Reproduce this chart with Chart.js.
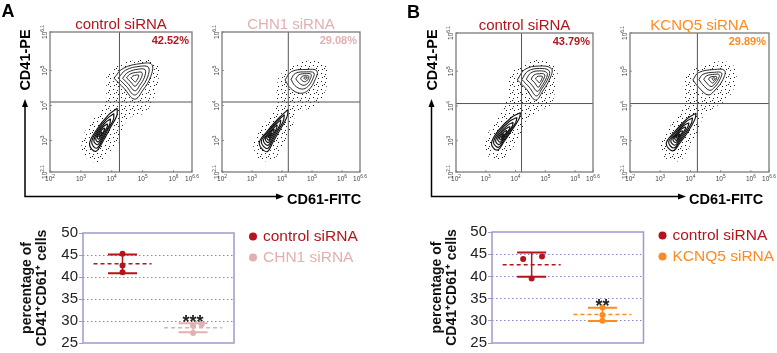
<!DOCTYPE html>
<html>
<head>
<meta charset="utf-8">
<script src="https://cdn.jsdelivr.net/npm/chart.js@4.4.1/dist/chart.umd.min.js"></script>
<style>
  html, body { margin: 0; padding: 0; background: #fff; }
  #fig { position: relative; width: 777px; height: 353px; overflow: hidden; }
  #fig canvas { position: absolute; }
</style>
</head>
<body>
<div id="fig">
  <canvas id="flowA1" width="390" height="212" style="left:0;top:0"></canvas>
  <canvas id="flowA2" width="390" height="212" style="left:0;top:0"></canvas>
  <canvas id="flowB1" width="389" height="212" style="left:388px;top:0"></canvas>
  <canvas id="flowB2" width="389" height="212" style="left:388px;top:0"></canvas>
  <canvas id="dotsA" width="388" height="131" style="left:0;top:222px"></canvas>
  <canvas id="dotsB" width="389" height="131" style="left:388px;top:222px"></canvas>
</div>
<script>
const FONT = "'Liberation Sans', Arial, sans-serif";

// flow cytometry axes (log10 of fluorescence)
const xRange = [2, 6.6];
const yRange = [2.1, 6.1];
const xTickExp = [2, 3, 4, 5, 6, 6.6];
const yTickExp = [2.1, 3, 4, 5, 6.1];

const flowTitles = ["control siRNA", "CHN1 siRNA", "control siRNA", "KCNQ5 siRNA"];
const flowPercents = ["42.52%", "29.08%", "43.79%", "29.89%"];
const flowGates = [[4.25, 4.1], [4.21, 4.1], [4.2, 4.07], [4.23, 4.07]];

// outline of the scattered events (x, y pairs)
const cloud1 = [4.10,5.11, 4.64,5.28, 5.18,5.30, 5.50,5.16, 5.50,4.63, 5.28,4.06, 5.07,3.78, 4.64,3.68, 4.42,3.49, 4.26,3.01, 3.88,2.63, 3.66,2.40, 3.34,2.40, 3.07,2.63, 3.02,3.01, 3.23,3.39, 3.56,3.78, 3.77,4.06, 3.83,4.44, 3.83,4.82];
const cloud2 = [4.04,4.97, 4.60,5.25, 5.27,5.25, 5.54,5.06, 5.49,4.54, 5.27,4.11, 4.93,3.92, 4.49,3.78, 4.32,3.30, 4.04,2.82, 3.77,2.49, 3.49,2.40, 3.21,2.49, 3.04,2.87, 3.21,3.30, 3.60,3.68, 3.82,3.97, 3.82,4.44, 3.88,4.78];
const cloud3 = [3.89,4.99, 4.51,5.32, 5.07,5.27, 5.40,5.03, 5.35,4.51, 5.18,4.03, 4.73,3.84, 4.34,3.55, 4.17,3.12, 3.89,2.78, 3.61,2.49, 3.28,2.45, 3.00,2.64, 3.00,3.07, 3.28,3.50, 3.56,3.88, 3.72,4.27, 3.72,4.65];
const cloud4 = [3.97,4.99, 4.58,5.23, 5.24,5.27, 5.52,5.03, 5.46,4.55, 5.19,4.17, 4.75,3.93, 4.42,3.69, 4.25,3.21, 3.97,2.83, 3.70,2.45, 3.37,2.40, 3.09,2.59, 3.04,3.02, 3.31,3.40, 3.64,3.79, 3.81,4.17, 3.75,4.65];

// contour rings, outer to inner: CD41+CD61+ population
const upper1 = [
  [4.07,4.78, 4.37,5.06, 4.96,5.20, 5.30,5.17, 5.26,4.82, 5.01,4.44, 4.74,4.18, 4.40,4.49],
  [4.21,4.78, 4.45,5.01, 4.92,5.12, 5.19,5.09, 5.16,4.81, 4.96,4.51, 4.74,4.30, 4.47,4.55],
  [4.35,4.78, 4.53,4.95, 4.88,5.04, 5.08,5.02, 5.06,4.81, 4.91,4.58, 4.75,4.42, 4.54,4.61],
  [4.48,4.79, 4.60,4.90, 4.84,4.95, 4.98,4.94, 4.96,4.80, 4.86,4.65, 4.75,4.55, 4.62,4.67],
  [4.62,4.79, 4.68,4.84, 4.80,4.87, 4.87,4.87, 4.86,4.80, 4.81,4.72, 4.76,4.67, 4.69,4.73]
];
const upper2 = [
  [4.10,4.73, 4.32,4.97, 4.82,5.03, 5.16,4.99, 5.10,4.73, 4.88,4.44, 4.60,4.35, 4.29,4.49],
  [4.30,4.75, 4.45,4.92, 4.81,4.96, 5.06,4.93, 5.02,4.75, 4.86,4.54, 4.66,4.47, 4.43,4.57],
  [4.46,4.76, 4.57,4.88, 4.81,4.91, 4.97,4.89, 4.94,4.76, 4.84,4.62, 4.70,4.58, 4.56,4.65],
  [4.62,4.77, 4.68,4.84, 4.81,4.85, 4.89,4.84, 4.88,4.77, 4.82,4.70, 4.75,4.68, 4.67,4.71],
  [4.73,4.78, 4.75,4.81, 4.80,4.81, 4.84,4.81, 4.83,4.78, 4.81,4.76, 4.78,4.75, 4.75,4.76]
];
const upper3 = [
  [4.06,4.75, 4.31,5.05, 4.79,5.15, 5.20,5.08, 5.18,4.84, 4.90,4.41, 4.67,4.17, 4.37,4.48],
  [4.21,4.76, 4.41,5.00, 4.80,5.08, 5.12,5.02, 5.11,4.83, 4.88,4.49, 4.70,4.29, 4.46,4.54],
  [4.36,4.77, 4.51,4.95, 4.80,5.01, 5.05,4.96, 5.04,4.82, 4.87,4.56, 4.73,4.42, 4.55,4.60],
  [4.52,4.77, 4.62,4.89, 4.81,4.93, 4.97,4.91, 4.96,4.81, 4.85,4.64, 4.76,4.54, 4.64,4.67],
  [4.67,4.78, 4.72,4.84, 4.81,4.86, 4.90,4.85, 4.89,4.80, 4.84,4.71, 4.79,4.67, 4.73,4.73]
];
const upper4 = [
  [4.08,4.75, 4.27,4.96, 4.80,5.05, 5.13,5.02, 5.08,4.77, 4.82,4.46, 4.58,4.32, 4.27,4.54],
  [4.28,4.76, 4.41,4.91, 4.79,4.97, 5.03,4.95, 4.98,4.77, 4.81,4.55, 4.64,4.45, 4.41,4.61],
  [4.44,4.77, 4.54,4.87, 4.79,4.91, 4.95,4.90, 4.92,4.78, 4.80,4.63, 4.68,4.56, 4.54,4.66],
  [4.60,4.77, 4.65,4.83, 4.79,4.85, 4.87,4.84, 4.86,4.78, 4.79,4.70, 4.73,4.66, 4.65,4.72],
  [4.71,4.78, 4.73,4.80, 4.78,4.81, 4.82,4.80, 4.81,4.78, 4.78,4.75, 4.76,4.73, 4.73,4.76]
];

// contour rings, outer to inner: CD41-CD61- population
const lower1 = [
  [4.18,3.92, 4.16,3.70, 3.95,3.36, 3.73,3.00, 3.48,2.69, 3.28,2.90, 3.52,3.32, 3.88,3.72],
  [4.07,3.77, 4.05,3.59, 3.88,3.32, 3.71,3.03, 3.51,2.78, 3.35,2.95, 3.54,3.29, 3.83,3.61],
  [3.96,3.62, 3.94,3.48, 3.82,3.28, 3.69,3.06, 3.54,2.88, 3.42,3.00, 3.56,3.26, 3.78,3.50],
  [3.86,3.48, 3.85,3.39, 3.76,3.24, 3.67,3.09, 3.56,2.96, 3.48,3.05, 3.58,3.23, 3.73,3.40],
  [3.77,3.36, 3.76,3.30, 3.71,3.21, 3.65,3.12, 3.58,3.04, 3.53,3.09, 3.59,3.20, 3.69,3.31],
  [3.69,3.25, 3.68,3.22, 3.66,3.18, 3.63,3.14, 3.60,3.10, 3.58,3.13, 3.61,3.18, 3.65,3.23]
];
const lower2 = [
  [4.21,3.89, 4.16,3.66, 3.93,3.30, 3.71,2.97, 3.49,2.68, 3.24,2.92, 3.49,3.25, 3.88,3.63],
  [4.08,3.74, 4.04,3.55, 3.86,3.27, 3.68,3.00, 3.51,2.77, 3.31,2.96, 3.51,3.23, 3.82,3.53],
  [3.96,3.59, 3.93,3.45, 3.79,3.23, 3.66,3.03, 3.53,2.86, 3.38,3.00, 3.53,3.20, 3.76,3.43],
  [3.84,3.45, 3.82,3.35, 3.73,3.20, 3.63,3.06, 3.54,2.94, 3.44,3.04, 3.54,3.18, 3.71,3.34],
  [3.74,3.33, 3.73,3.27, 3.67,3.17, 3.61,3.09, 3.56,3.01, 3.49,3.08, 3.56,3.16, 3.66,3.26],
  [3.66,3.22, 3.65,3.19, 3.62,3.15, 3.60,3.11, 3.57,3.08, 3.54,3.10, 3.57,3.14, 3.62,3.19]
];
const lower3 = [
  [4.17,3.81, 4.11,3.62, 3.84,3.26, 3.61,2.97, 3.39,2.73, 3.19,2.92, 3.44,3.31, 3.86,3.67],
  [4.05,3.67, 4.00,3.52, 3.78,3.23, 3.60,3.00, 3.42,2.81, 3.26,2.96, 3.46,3.27, 3.80,3.56],
  [3.92,3.53, 3.89,3.42, 3.72,3.20, 3.59,3.03, 3.45,2.89, 3.33,3.00, 3.48,3.23, 3.74,3.45],
  [3.81,3.41, 3.79,3.33, 3.67,3.18, 3.58,3.06, 3.48,2.96, 3.40,3.04, 3.50,3.20, 3.68,3.35],
  [3.71,3.30, 3.70,3.25, 3.63,3.16, 3.57,3.08, 3.51,3.02, 3.46,3.07, 3.52,3.17, 3.63,3.26],
  [3.62,3.20, 3.62,3.18, 3.58,3.14, 3.56,3.10, 3.53,3.07, 3.51,3.10, 3.54,3.14, 3.59,3.19]
];
const lower4 = [
  [4.19,3.79, 4.14,3.60, 3.92,3.26, 3.64,2.92, 3.42,2.71, 3.20,2.92, 3.48,3.26, 3.90,3.64],
  [4.07,3.66, 4.03,3.50, 3.85,3.23, 3.63,2.96, 3.45,2.79, 3.28,2.96, 3.50,3.23, 3.84,3.54],
  [3.95,3.52, 3.92,3.41, 3.78,3.20, 3.62,3.00, 3.48,2.87, 3.35,3.00, 3.52,3.20, 3.77,3.43],
  [3.84,3.40, 3.82,3.32, 3.72,3.18, 3.61,3.04, 3.51,2.95, 3.42,3.04, 3.54,3.18, 3.71,3.34],
  [3.74,3.29, 3.73,3.24, 3.67,3.16, 3.60,3.07, 3.54,3.01, 3.48,3.07, 3.55,3.16, 3.66,3.26],
  [3.65,3.20, 3.65,3.18, 3.62,3.14, 3.59,3.10, 3.56,3.07, 3.53,3.10, 3.57,3.14, 3.62,3.18]
];

// dot plots: percentage of CD41+CD61+ cells, three replicates per group
const pctTicks = [25, 30, 35, 40, 45, 50];
const groupsA = ["control siRNA", "CHN1 siRNA"];
const valuesA = [[45.3, 42.6, 41.1], [28.9, 29.2, 27.3]];
const jitterA = [[0, 0, 0], [0, 0.12, 0]];
const sigA = ["", "***"];
const groupsB = ["control siRNA", "KCNQ5 siRNA"];
const valuesB = [[43.9, 44.5, 39.5], [33.0, 31.3, 30.0]];
const jitterB = [[-0.12, 0.146, 0], [0, 0, 0]];
const sigB = ["", "**"];

const RED = "#b3151d", PINK = "#e3b0b0", ORANGE = "#ff8b1f";

const clouds = [cloud1, cloud2, cloud3, cloud4];
const uppers = [upper1, upper2, upper3, upper4];
const lowers = [lower1, lower2, lower3, lower4];

// speckle texture for the scattered events
const tile = document.createElement("canvas");
tile.width = tile.height = 8;
const tctx = tile.getContext("2d");
tctx.fillStyle = "#222";
[[1, 1], [5, 2], [2, 5], [6, 6], [4, 4]].forEach(([px, py]) => tctx.fillRect(px, py, 1, 1));
const speckle = tctx.createPattern(tile, "repeat");

function ring(flat) {
  const pts = [];
  for (let i = 0; i < flat.length; i += 2) pts.push({ x: flat[i], y: flat[i + 1] });
  pts.push(pts[0]);
  return pts;
}

function drawPow(ctx, e, cx, cy) {
  const sup = String(e);
  ctx.font = `6.5px ${FONT}`;
  const wb = ctx.measureText("10").width;
  ctx.font = `4.8px ${FONT}`;
  const ws = ctx.measureText(sup).width;
  const x0 = cx - (wb + ws) / 2;
  ctx.textAlign = "left";
  ctx.textBaseline = "alphabetic";
  ctx.font = `6.5px ${FONT}`;
  ctx.fillText("10", x0, cy + 2.3);
  ctx.font = `4.8px ${FONT}`;
  ctx.fillText(sup, x0 + wb, cy - 0.6);
}

// frame, gate, tick labels, title and percentage of one flow plot
function flowFrame(k, color) {
  return {
    id: "flowFrame",
    afterDatasetsDraw(chart) {
      const { ctx, chartArea: a, scales: { x, y } } = chart;
      ctx.save();
      const gx = x.getPixelForValue(flowGates[k][0]);
      const gy = y.getPixelForValue(flowGates[k][1]);
      ctx.strokeStyle = "#555";
      ctx.lineWidth = 1;
      ctx.beginPath();
      ctx.moveTo(gx, a.top); ctx.lineTo(gx, a.bottom);
      ctx.moveTo(a.left, gy); ctx.lineTo(a.right, gy);
      ctx.stroke();
      ctx.strokeStyle = "#7a7a7a";
      ctx.lineWidth = 1.3;
      ctx.strokeRect(a.left, a.top, a.right - a.left, a.bottom - a.top);

      ctx.fillStyle = "#444";
      ctx.lineWidth = 0.8;
      xTickExp.forEach(e => {
        const px = x.getPixelForValue(e);
        ctx.beginPath(); ctx.moveTo(px, a.bottom); ctx.lineTo(px, a.bottom - 2); ctx.stroke();
        drawPow(ctx, e, px, a.bottom + 6.5);
      });
      yTickExp.forEach(e => {
        const py = y.getPixelForValue(e);
        ctx.beginPath(); ctx.moveTo(a.left, py); ctx.lineTo(a.left + 2, py); ctx.stroke();
        ctx.save();
        ctx.translate(a.left - 5.5, py);
        ctx.rotate(-Math.PI / 2);
        drawPow(ctx, e, 0, 0);
        ctx.restore();
      });

      ctx.fillStyle = color;
      ctx.font = `15px ${FONT}`;
      ctx.textAlign = "center";
      ctx.textBaseline = "alphabetic";
      ctx.fillText(flowTitles[k], (a.left + a.right) / 2, a.top - 3.5);
      ctx.font = `bold 11px ${FONT}`;
      ctx.textAlign = "right";
      ctx.fillText(flowPercents[k], a.right - 3, a.top + 11.5);
      ctx.restore();
    }
  };
}

// panel letter and the CD41-PE / CD61-FITC axis arrows
function panelDecor(d) {
  return {
    id: "panelDecor",
    afterDraw(chart) {
      const ctx = chart.ctx;
      ctx.save();
      ctx.fillStyle = "#000";
      ctx.strokeStyle = "#000";
      ctx.font = `bold 18px ${FONT}`;
      ctx.textAlign = "left";
      ctx.textBaseline = "alphabetic";
      ctx.fillText(d.letter, d.lx, d.ly);

      ctx.lineWidth = 1.5;
      ctx.beginPath();
      ctx.moveTo(d.ox, d.yTip + 6); ctx.lineTo(d.ox, d.oy); ctx.lineTo(d.xTip - 6, d.oy);
      ctx.stroke();
      ctx.beginPath();
      ctx.moveTo(d.ox, d.yTip); ctx.lineTo(d.ox - 3, d.yTip + 8); ctx.lineTo(d.ox + 3, d.yTip + 8);
      ctx.closePath(); ctx.fill();
      ctx.beginPath();
      ctx.moveTo(d.xTip, d.oy); ctx.lineTo(d.xTip - 8, d.oy - 3); ctx.lineTo(d.xTip - 8, d.oy + 3);
      ctx.closePath(); ctx.fill();

      ctx.font = `bold 14.5px ${FONT}`;
      ctx.textBaseline = "middle";
      ctx.fillText("CD61-FITC", d.xTip + 3, d.oy + 3.5);
      ctx.translate(d.ox + 1, 60);
      ctx.rotate(-Math.PI / 2);
      ctx.textAlign = "center";
      ctx.fillText("CD41-PE", 0, 0);
      ctx.restore();
    }
  };
}

function flowChart(id, k, pad, color, decor) {
  const sets = [{
    data: ring(clouds[k]), fill: "shape", backgroundColor: speckle,
    borderColor: "rgba(0,0,0,0)", borderWidth: 0, tension: 0.3
  }];
  [uppers[k], lowers[k]].forEach((rings, p) => {
    rings.forEach((r, i) => sets.push({
      data: ring(r), fill: i === 0 ? "shape" : false, backgroundColor: "#fff",
      borderColor: "#111", borderWidth: p === 0 ? 0.9 : 1.15, tension: 0.4
    }));
  });
  sets.forEach((s, j) => { s.order = -j; s.showLine = true; s.pointRadius = 0; });

  const plugins = [flowFrame(k, color)];
  if (decor) plugins.push(panelDecor(decor));

  new Chart(document.getElementById(id), {
    type: "scatter",
    data: { datasets: sets },
    options: {
      responsive: false,
      animation: false,
      events: [],
      layout: { padding: pad },
      plugins: { legend: { display: false }, tooltip: { enabled: false } },
      scales: {
        x: { display: false, min: xRange[0], max: xRange[1] },
        y: { display: false, min: yRange[0], max: yRange[1] }
      }
    },
    plugins
  });
}

// mean (dashed), SD whiskers, significance stars, legend and frame
function groupStats(groups, values, sig, colors) {
  return {
    id: "groupStats",
    beforeDatasetsDraw(chart) {
      const { ctx, chartArea: a, scales: { x, y } } = chart;
      ctx.save();
      ctx.strokeStyle = "#9b9bcf";
      ctx.lineWidth = 1.5;
      ctx.strokeRect(a.left, a.top, a.right - a.left, a.bottom - a.top);

      values.forEach((vals, g) => {
        const mean = vals.reduce((s, v) => s + v, 0) / vals.length;
        const sd = Math.sqrt(vals.reduce((s, v) => s + (v - mean) ** 2, 0) / (vals.length - 1));
        const cx = x.getPixelForValue(g);
        const yHi = y.getPixelForValue(mean + sd);
        const yLo = y.getPixelForValue(mean - sd);
        const yM = y.getPixelForValue(mean);
        ctx.strokeStyle = colors[g];
        ctx.setLineDash([]);
        ctx.lineWidth = 1.5;
        ctx.beginPath(); ctx.moveTo(cx, yHi); ctx.lineTo(cx, yLo); ctx.stroke();
        ctx.lineWidth = 2;
        ctx.beginPath();
        ctx.moveTo(cx - 14.5, yHi); ctx.lineTo(cx + 14.5, yHi);
        ctx.moveTo(cx - 14.5, yLo); ctx.lineTo(cx + 14.5, yLo);
        ctx.stroke();
        ctx.setLineDash([4, 3]);
        ctx.lineWidth = 1.5;
        ctx.beginPath(); ctx.moveTo(cx - 29, yM); ctx.lineTo(cx + 29, yM); ctx.stroke();
        ctx.setLineDash([]);
        if (sig[g]) {
          ctx.fillStyle = "#222";
          ctx.font = `bold 18px ${FONT}`;
          ctx.textAlign = "center";
          ctx.textBaseline = "alphabetic";
          ctx.fillText(sig[g], cx, yHi + 4.5);
        }
      });

      groups.forEach((lab, g) => {
        const ly = a.top + 3.5 + g * 21;
        ctx.fillStyle = colors[g];
        ctx.beginPath(); ctx.arc(a.right + 19, ly, 4, 0, Math.PI * 2); ctx.fill();
        ctx.font = `15.5px ${FONT}`;
        ctx.textAlign = "left";
        ctx.textBaseline = "middle";
        ctx.fillText(lab, a.right + 29, ly + 0.5);
      });
      ctx.restore();
    }
  };
}

function dotChart(id, groups, values, jitter, sig, colors, pad, axisW) {
  new Chart(document.getElementById(id), {
    type: "scatter",
    data: {
      datasets: values.map((vals, g) => ({
        label: groups[g],
        data: vals.map((v, i) => ({ x: g + jitter[g][i], y: v })),
        backgroundColor: colors[g],
        borderColor: colors[g],
        pointRadius: 3,
        pointBorderWidth: 0
      }))
    },
    options: {
      responsive: false,
      animation: false,
      events: [],
      layout: { padding: pad },
      plugins: { legend: { display: false }, tooltip: { enabled: false } },
      scales: {
        x: { display: false, min: -0.56, max: 1.58 },
        y: {
          min: pctTicks[0],
          max: pctTicks[pctTicks.length - 1],
          afterBuildTicks: s => { s.ticks = pctTicks.map(v => ({ value: v })); },
          afterFit: s => { s.width = axisW; },
          ticks: { color: "#222", padding: 1, font: { family: FONT, size: 15 } },
          grid: {
            color: c => (c.tick && (c.tick.value === 25 || c.tick.value === 50)) ? "rgba(0,0,0,0)" : "#8585c9",
            tickColor: "#9b9bcf",
            tickLength: 4,
            tickBorderDash: [],
            lineWidth: 1
          },
          border: { display: false, dash: [1.5, 2.5] },
          title: {
            display: true,
            text: ["percentage of", "CD41\u207ACD61\u207A cells"],
            color: "#111",
            font: { family: FONT, size: 14, weight: "bold", lineHeight: 1.07 },
            padding: { top: 6.5, bottom: 0 }
          }
        }
      }
    },
    plugins: [groupStats(groups, values, sig, colors)]
  });
}

flowChart("flowA1", 0, { left: 50, top: 32, right: 198, bottom: 40 }, RED,
  { letter: "A", lx: 1.5, ly: 16.7, ox: 25, oy: 196.5, yTip: 99, xTip: 284 });
flowChart("flowA2", 1, { left: 222, top: 32, right: 30, bottom: 40 }, PINK);
flowChart("flowB1", 2, { left: 68, top: 33, right: 184, bottom: 40 }, RED,
  { letter: "B", lx: 19, ly: 18.3, ox: 43.5, oy: 196.5, yTip: 99, xTip: 298 });
flowChart("flowB2", 3, { left: 242, top: 33, right: 8, bottom: 40 }, ORANGE);

dotChart("dotsA", groupsA, valuesA, jitterA, sigA, [RED, PINK], { left: 13, top: 11, right: 154, bottom: 7 }, 70);
dotChart("dotsB", groupsB, valuesB, jitterB, sigB, [RED, ORANGE], { left: 35, top: 8, right: 133.5, bottom: 10 }, 69);
</script>
</body>
</html>
